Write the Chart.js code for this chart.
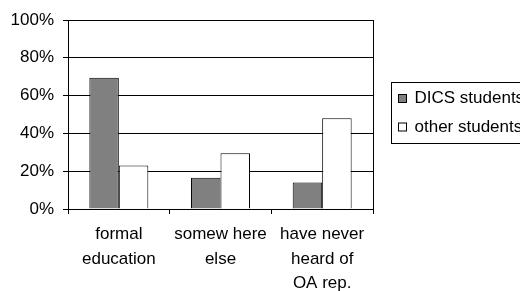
<!DOCTYPE html>
<html>
<head>
<meta charset="utf-8">
<script src="https://cdn.jsdelivr.net/npm/chart.js@4"></script>
<style>
  html, body { margin: 0; padding: 0; background: #fff; }
  #wrap { width: 520px; height: 291px; position: relative; }
</style>
</head>
<body>
<div id="wrap"><canvas id="chart" width="520" height="291"></canvas></div>
<script>
const categories = [["formal", "education"], ["somew here", "else"], ["have never", "heard of", "OA rep."]];
const dicsStudents  = [69.5, 16.5, 14];
const otherStudents = [23, 29.5, 48];
const yTicks = [0, 20, 40, 60, 80, 100];

const FONT = "'Liberation Sans', Arial, sans-serif";
const FONT_SIZE = 17;

// right edge of the plot frame
const frameRight = {
  id: "frameRight",
  afterDatasetsDraw(chart) {
    const { ctx, chartArea: a } = chart;
    ctx.save();
    ctx.strokeStyle = "#000";
    ctx.lineWidth = 1;
    ctx.beginPath();
    ctx.moveTo(Math.round(a.right) + 0.5, a.top);
    ctx.lineTo(Math.round(a.right) + 0.5, a.bottom);
    ctx.stroke();
    ctx.restore();
  }
};

// boxed legend to the right of the plot, clipped by the canvas edge like the original
const boxLegend = {
  id: "boxLegend",
  afterDraw(chart) {
    const { ctx, chartArea: a } = chart;
    const left = Math.round(a.right) + 18.5;
    const top = 82.5;
    ctx.save();
    ctx.strokeStyle = "#000";
    ctx.lineWidth = 1;
    ctx.strokeRect(left, top, 200, 61);
    ctx.font = FONT_SIZE + "px " + FONT;
    ctx.textBaseline = "middle";
    chart.data.datasets.forEach((ds, i) => {
      const cy = 98.5 + i * 28.5;
      ctx.fillStyle = ds.backgroundColor;
      ctx.fillRect(left + 7, cy - 4, 8, 8);
      ctx.strokeRect(left + 7, cy - 4, 8, 8);
      ctx.fillStyle = "#000";
      ctx.fillText(ds.label, left + 23, cy);
    });
    ctx.restore();
  }
};

new Chart(document.getElementById("chart"), {
  type: "bar",
  data: {
    labels: categories,
    datasets: [
      { label: "DICS students", data: dicsStudents, backgroundColor: "#808080", borderColor: "#000", borderWidth: 1 },
      { label: "other students", data: otherStudents, backgroundColor: "#ffffff", borderColor: "#000", borderWidth: 1 },
    ]
  },
  options: {
    responsive: false,
    animation: false,
    events: [],
    layout: { padding: { top: 20, right: 147, left: 0, bottom: 0 } },
    datasets: { bar: { categoryPercentage: 0.58, barPercentage: 1 } },
    plugins: { legend: { display: false }, tooltip: { enabled: false } },
    scales: {
      x: {
        grid: { drawOnChartArea: false, color: "#000", tickLength: 5 },
        border: { display: true, color: "#000" },
        ticks: { color: "#000", font: { size: FONT_SIZE, family: FONT, lineHeight: 1.45 }, padding: 8, maxRotation: 0, autoSkip: false },
        afterFit(s) { s.height = 82; }
      },
      y: {
        min: 0, max: 100,
        afterBuildTicks(s) { s.ticks = yTicks.map(v => ({ value: v })); },
        grid: { color: "#000", tickLength: 5 },
        border: { display: true, color: "#000" },
        ticks: { color: "#000", font: { size: FONT_SIZE, family: FONT }, padding: 9, callback: v => v + "%" },
        afterFit(s) { s.width = 68; }
      }
    }
  },
  plugins: [frameRight, boxLegend]
});
</script>
</body>
</html>
